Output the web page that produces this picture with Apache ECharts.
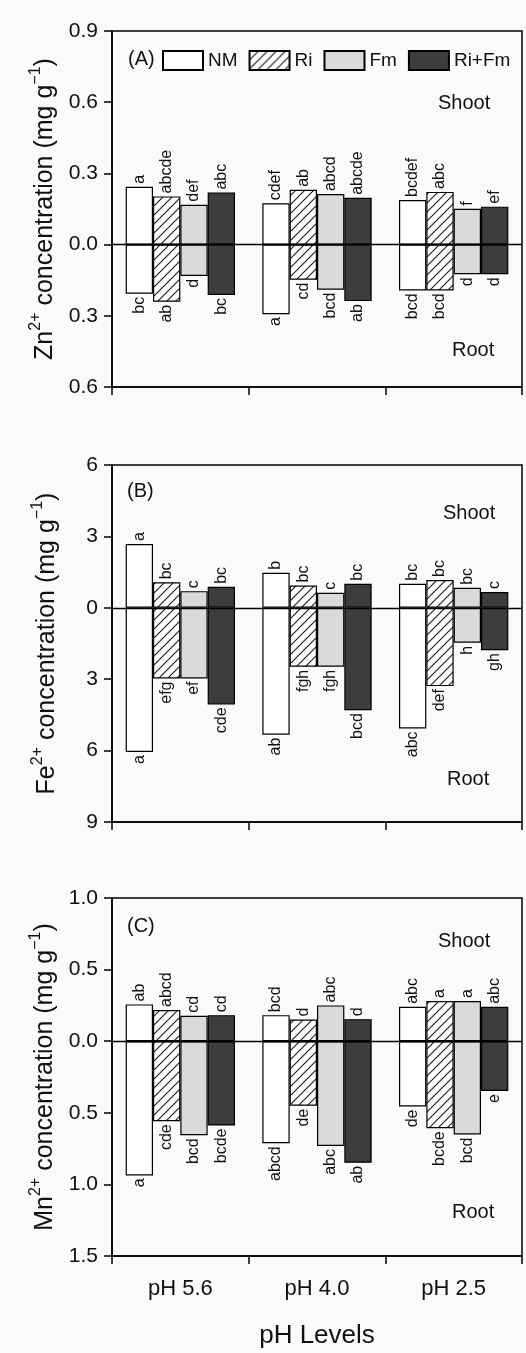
<!DOCTYPE html>
<html>
<head>
<meta charset="utf-8">
<script src="https://cdn.jsdelivr.net/npm/echarts@6/dist/echarts.min.js"></script>
<style>
  html, body { margin: 0; padding: 0; background: #fafafa; }
  #main { width: 526px; height: 1353px; }
</style>
</head>
<body>
<div id="main"></div>
<script>
var phLevels = ['pH 5.6', 'pH 4.0', 'pH 2.5'];
var treatments = ['NM', 'Ri', 'Fm', 'Ri+Fm'];

// rows = treatments (NM, Ri, Fm, Ri+Fm), cols = pH levels
var znShoot = [[0.244, 0.174, 0.188], [0.203, 0.231, 0.222], [0.168, 0.213, 0.151], [0.219, 0.197, 0.160]];
var znRoot  = [[0.207, 0.293, 0.193], [0.241, 0.148, 0.193], [0.132, 0.190, 0.125], [0.212, 0.238, 0.125]];
var znShootLetters = [['a', 'cdef', 'bcdef'], ['abcde', 'ab', 'abc'], ['def', 'abcd', 'f'], ['abc', 'abcde', 'ef']];
var znRootLetters  = [['bc', 'a', 'bcd'], ['ab', 'cd', 'bcd'], ['d', 'bcd', 'd'], ['bc', 'ab', 'd']];

var feShoot = [[2.68, 1.47, 1.01], [1.07, 0.94, 1.17], [0.70, 0.63, 0.84], [0.88, 1.01, 0.66]];
var feRoot  = [[6.06, 5.33, 5.07], [2.97, 2.48, 3.29], [2.97, 2.48, 1.47], [4.06, 4.30, 1.78]];
var feShootLetters = [['a', 'b', 'bc'], ['bc', 'bc', 'bc'], ['c', 'c', 'bc'], ['bc', 'bc', 'c']];
var feRootLetters  = [['a', 'ab', 'abc'], ['efg', 'fgh', 'def'], ['ef', 'fgh', 'h'], ['cde', 'bcd', 'gh']];

var mnShoot = [[0.257, 0.182, 0.240], [0.218, 0.152, 0.280], [0.178, 0.250, 0.280], [0.182, 0.154, 0.240]];
var mnRoot  = [[0.937, 0.713, 0.456], [0.559, 0.451, 0.608], [0.657, 0.732, 0.652], [0.589, 0.849, 0.348]];
var mnShootLetters = [['ab', 'bcd', 'abc'], ['abcd', 'd', 'a'], ['cd', 'abc', 'a'], ['cd', 'd', 'abc']];
var mnRootLetters  = [['a', 'abcd', 'de'], ['cde', 'de', 'bcde'], ['bcd', 'abc', 'bcd'], ['bcde', 'ab', 'e']];

var ions = ['Zn', 'Fe', 'Mn'];

var font = 'Liberation Sans, Arial, sans-serif';

// hatch pattern for Ri
var hatch = document.createElement('canvas');
hatch.width = 9; hatch.height = 9;
var hc = hatch.getContext('2d');
hc.fillStyle = '#ffffff';
hc.fillRect(0, 0, 9, 9);
hc.strokeStyle = '#1a1a1a';
hc.lineWidth = 1.1;
hc.beginPath();
hc.moveTo(-1, 10); hc.lineTo(10, -1);
hc.moveTo(-1, 1); hc.lineTo(1, -1);
hc.moveTo(8, 10); hc.lineTo(10, 8);
hc.stroke();

var fills = ['#ffffff', { image: hatch, repeat: 'repeat' }, '#dadada', '#3d3d3d'];

var chart = echarts.init(document.getElementById('main'));

var grids = [
  { left: 112, top: 31, width: 410, height: 356 },
  { left: 112, top: 465, width: 410, height: 357 },
  { left: 112, top: 898, width: 410, height: 358 }
];
var yRanges = [
  { min: -0.6, max: 0.9, interval: 0.3, digits: 1 },
  { min: -9, max: 6, interval: 3, digits: 0 },
  { min: -1.5, max: 1.0, interval: 0.5, digits: 1 }
];

var series = [];
function panelSeries(g, shoot, root, shootL, rootL) {
  treatments.forEach(function (t, i) {
    var style = { color: fills[i], borderColor: '#000', borderWidth: 1.2 };
    var s = {
      type: 'bar', name: t, xAxisIndex: g, yAxisIndex: g,
      stack: 'p' + g + '_' + i, barGap: '0%', barCategoryGap: '20%',
      itemStyle: style,
      data: shoot[i],
      label: {
        show: true, position: 'top', rotate: 90, align: 'left', verticalAlign: 'middle',
        distance: 3, fontSize: 16, fontFamily: font, color: '#111',
        formatter: function (p) { return shootL[i][p.dataIndex]; }
      }
    };
    if (i === 0) {
      s.markLine = {
        silent: true, symbol: 'none', label: { show: false }, z: 10,
        lineStyle: { color: '#000', width: 1.3, type: 'solid' },
        data: [{ yAxis: 0 }]
      };
    }
    series.push(s);
    series.push({
      type: 'bar', name: t, xAxisIndex: g, yAxisIndex: g,
      stack: 'p' + g + '_' + i, barGap: '0%', barCategoryGap: '20%',
      itemStyle: style,
      data: root[i].map(function (v) { return -v; }),
      label: {
        show: true, position: 'bottom', rotate: 90, align: 'right', verticalAlign: 'middle',
        distance: 3, fontSize: 16, fontFamily: font, color: '#111',
        formatter: function (p) { return rootL[i][p.dataIndex]; }
      }
    });
  });
}
panelSeries(0, znShoot, znRoot, znShootLetters, znRootLetters);
panelSeries(1, feShoot, feRoot, feShootLetters, feRootLetters);
panelSeries(2, mnShoot, mnRoot, mnShootLetters, mnRootLetters);

var xAxes = grids.map(function (g, k) {
  return {
    type: 'category', gridIndex: k, data: phLevels, position: 'bottom',
    axisLine: { onZero: false, lineStyle: { color: '#000', width: 1.5 } },
    axisTick: { show: true, inside: false, length: 8, lineStyle: { width: 1.5 } },
    axisLabel: { show: k === 2, fontSize: 22, fontFamily: font, color: '#111', margin: 22 },
    name: k === 2 ? 'pH Levels' : '', nameLocation: 'middle', nameGap: 67,
    nameTextStyle: { fontSize: 26, fontFamily: font, color: '#111' }
  };
});
var yAxes = yRanges.map(function (r, k) {
  return {
    type: 'value', gridIndex: k, min: r.min, max: r.max, interval: r.interval,
    axisLine: { show: true, lineStyle: { color: '#000', width: 1.5 } },
    axisTick: { show: true, inside: false, length: 8, lineStyle: { width: 1.5 } },
    splitLine: { show: false },
    axisLabel: {
      fontSize: 21, fontFamily: font, color: '#111', margin: 14,
      formatter: function (v) { return Math.abs(v).toFixed(r.digits); }
    },
    name: '{a|' + ions[k] + '}{s|2+}{a| concentration (mg g}{s|\u22121}{a|)}',
    nameLocation: 'middle', nameGap: 52,
    nameTextStyle: {
      fontFamily: font, color: '#111',
      rich: {
        a: { fontSize: 25, fontFamily: font, color: '#111', lineHeight: 30, verticalAlign: 'bottom' },
        s: { fontSize: 16, fontFamily: font, color: '#111', lineHeight: 16, verticalAlign: 'top' }
      }
    }
  };
});

function txt(x, y, s) {
  return {
    type: 'text', left: x, top: y,
    style: { text: s, fontSize: 20, fontFamily: font, fill: '#111' }
  };
}

chart.setOption({
  backgroundColor: '#fafafa',
  animation: false,
  grid: grids.map(function (g) {
    return { left: g.left, top: g.top, width: g.width, height: g.height,
             show: true, borderColor: '#000', borderWidth: 1.5, backgroundColor: 'transparent' };
  }),
  legend: {
    data: treatments, left: 162, top: 50, padding: 0, itemWidth: 40, itemHeight: 19, itemGap: 11,
    icon: 'rect', textStyle: { fontSize: 19, fontFamily: font, color: '#111' }
  },
  xAxis: xAxes,
  yAxis: yAxes,
  series: series,
  graphic: [
    txt(128, 49, '(A)'),
    txt(438, 93, 'Shoot'),
    txt(452, 340, 'Root'),
    txt(127, 481, '(B)'),
    txt(443, 503, 'Shoot'),
    txt(447, 769, 'Root'),
    txt(127, 916, '(C)'),
    txt(438, 931, 'Shoot'),
    txt(452, 1202, 'Root')
  ]
});
</script>
</body>
</html>
